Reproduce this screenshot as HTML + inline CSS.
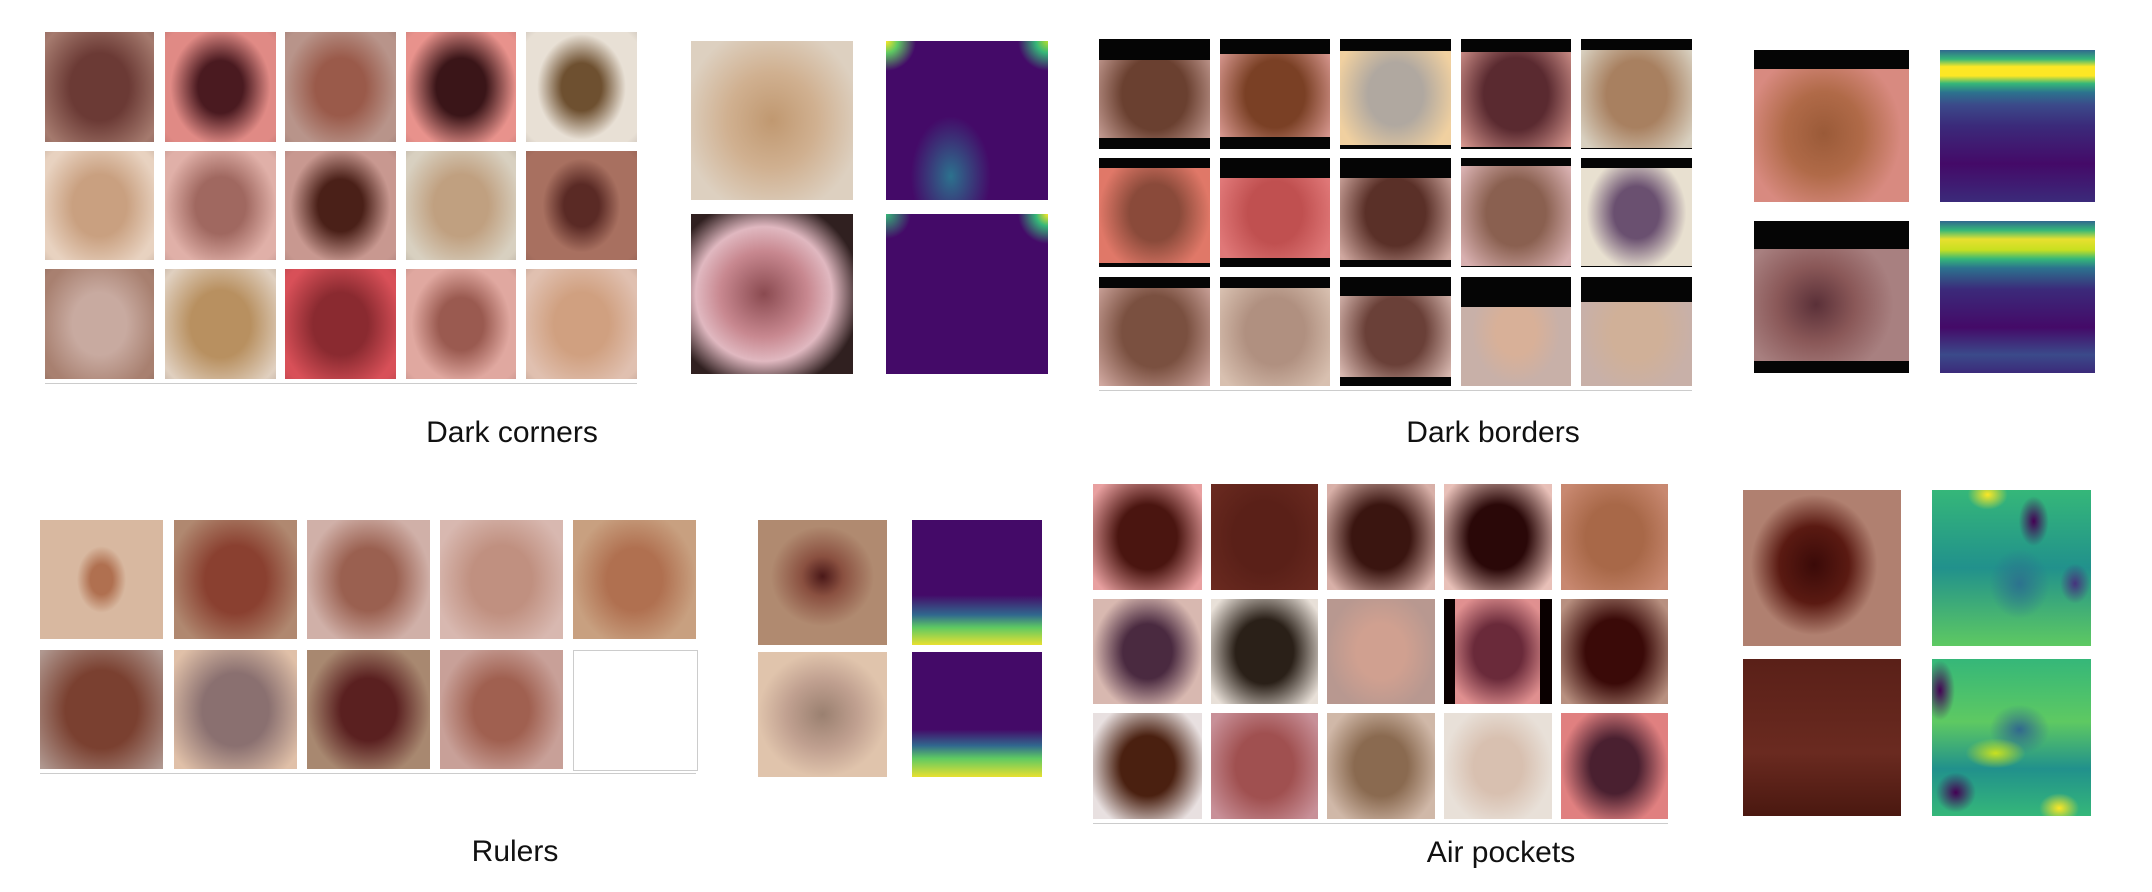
<!DOCTYPE html>
<html><head><meta charset="utf-8">
<style>
html,body{margin:0;padding:0;background:#fff;}
#root{position:relative;width:2152px;height:892px;overflow:hidden;background:#fff;font-family:"Liberation Sans",sans-serif;}
.c{position:absolute;overflow:hidden;}
.bar{position:absolute;left:0;right:0;background:#050505;}
.t{position:absolute;font-size:30px;color:#111;transform:translate(-50%,-50%);white-space:nowrap;}
.ax{position:absolute;height:1px;background:#ccc;}
</style></head><body>
<div id="root">
<div class="t" style="left:512px;top:433px">Dark corners</div>
<div class="t" style="left:1493px;top:433px">Dark borders</div>
<div class="t" style="left:515px;top:852px">Rulers</div>
<div class="t" style="left:1501px;top:853px">Air pockets</div>
</div>
<script>
const root=document.getElementById('root');
const dcCols=[[45,154],[165,276],[285,396],[406,516],[526,637]], dcRows=[[32,142],[151,260],[269,379]];
const dbCols=[[1099,1210],[1220,1330],[1340,1451],[1461,1571],[1581,1692]], dbRows=[[39,149],[158,267],[277,386]];
const ruCols=[[40,163],[174,297],[307,430],[440,563],[573,696]], ruRows=[[520,639],[650,769]];
const apCols=[[1093,1202],[1211,1318],[1327,1435],[1444,1552],[1561,1668]], apRows=[[484,590],[599,704],[713,819]];
const dcColors=[["#a57a6e","#6b3a35",60],["#e08a85","#4a1a20",45],["#b8948a","#9a5a4a",50],["#e8928c","#3a1518",50],["#e8e0d5","#6e5030",40],
["#e8d2c0","#c9a080",55],["#e0b0a8","#a06860",50],["#c89890","#4a2018",45],["#d8d0c0","#c0a080",55],["#a87060","#5a2a25",35],
["#a88070","#c8aaa0",55],["#e0d0c0","#b89060",60],["#d85058","#8a2a30",55],["#e0a8a0","#9a5a50",45],["#e0c0b0","#d0a080",55]];
const dbColors=[["#d0a8a0","#6a4030",65],["#d89890","#7a4025",60],["#f0d0a0","#b0a8a0",55],["#d89890","#5a2a30",65],["#d8d0c0","#a88060",60],
["#e07868","#8a4a3a",50],["#e07878","#c05050",55],["#d0a8a0","#5a3028",60],["#d8b0b0","#8a6050",60],["#e8e0d0","#6a5070",45],
["#d0a8a0","#7a5040",65],["#d8c0b0","#b09080",60],["#d8b8b0","#6a4038",60],["#c8b0a8","#d8b098",40],["#c8b0a8","#d0b098",50]];
const dbTop=[21,15,12,13,11,10,20,20,8,10,11,11,19,30,25];
const dbBot=[11,12,4,2,1,4,9,7,1,1,0,0,9,0,0];
const ruColors=[["#d8b8a0","#b07050",20],["#b08870","#8a4030",55],["#d0b0a8","#9a6050",50],["#d8b8b0","#c09080",55],["#c8a080","#b07050",50],
["#b09890","#7a4030",65],["#e0c0a8","#8a7070",60],["#a88870","#5a2020",50],["#c8a098","#a06050",50],["#ffffff","#ffffff",0]];
const apColors=[["#e8a0a0","#4a1510",60],["#6a2a20","#5a2018",65],["#d8b0a8","#3a1510",60],["#e8c0b8","#2a0808",60],["#c88870","#a86848",60],
["#d8b8b0","#4a2a40",50],["#e8e0d8","#2a2018",60],["#b89890","#d0a090",50],["#e09090","#6a2a3a",50],["#b89080","#3a0a08",60],
["#e8e0e0","#4a2010",55],["#c89098","#a05050",60],["#d0b8a8","#8a6a50",55],["#e8e0d8","#d8c0b0",50],["#e08080","#4a2030",50]];

function mk(x,y,w,h,bg,name){
  const d=document.createElement('div');d.className='c';
  d.style.cssText+=`left:${x}px;top:${y}px;width:${w}px;height:${h}px;background:${bg};`;
  
  
  root.appendChild(d);return d;
}
function lesion(c){return c[2]?`radial-gradient(ellipse ${c[2]}% ${c[2]+8}% at 50% 50%, ${c[1]} 0%, ${c[1]} 45%, ${c[0]} 100%)`:c[0];}
function grid(cols,rows,colors,prefix,vignette){
  rows.forEach((r,ri)=>cols.forEach((c,ci)=>{
    const k=ri*cols.length+ci;const col=colors[k];
    let bg=lesion(col);
    if(vignette) bg=`radial-gradient(ellipse 80% 80% at 50% 50%, rgba(0,0,0,0) 80%, rgba(40,20,20,0.2) 100%),`+bg;
    const d=mk(c[0],r[0],c[1]-c[0],r[1]-r[0],bg,prefix+'-thumb');
    if(col[0]==="#ffffff") d.style.border='1px solid #ccc';
  }));
  const ax=document.createElement('div');ax.className='ax';
  ax.style.cssText+=`left:${cols[0][0]}px;top:${rows[rows.length-1][1]+4}px;width:${cols[4][1]-cols[0][0]}px;`;
  
  
  root.appendChild(ax);
}
grid(dcCols,dcRows,dcColors,'dark-corners',true);
grid(dbCols,dbRows,dbColors,'dark-borders',false);
grid(ruCols,ruRows,ruColors,'rulers',false);
grid(apCols,apRows,apColors,'air-pockets',false);
dbRows.forEach((r,ri)=>dbCols.forEach((c,ci)=>{
  const k=ri*5+ci;
  const w=c[1]-c[0];
  const t=document.createElement('div');t.className='c';
  t.style.cssText+=`left:${c[0]}px;top:${r[0]}px;width:${w}px;height:${dbTop[k]}px;background:#050505;`;
  
  
  root.appendChild(t);
  if(dbBot[k]){const b=document.createElement('div');b.className='c';
  b.style.cssText+=`left:${c[0]}px;top:${r[1]-dbBot[k]}px;width:${w}px;height:${dbBot[k]}px;background:#050505;`;
  
  
  root.appendChild(b);}
}));
[[1444,1455],[1540,1552]].forEach(s=>{mk(s[0],599,s[1]-s[0],105,'#0a0000','black-side-bar');});

const V='#440a68', V2='#3b2a7a';
mk(691,41,162,159,'radial-gradient(ellipse 55% 60% at 50% 50%, #c09870 0%, #d0b090 50%, #ddd0c0 100%)','dark-corners-example-1');
mk(691,214,162,160,'radial-gradient(ellipse 60% 60% at 45% 50%, #8a4a50 0%, #c88890 45%, #e0b8c0 70%, #302020 100%)','dark-corners-example-2');
mk(886,41,162,159,`radial-gradient(circle 30px at 0% 0%, #fde725 0%, #5ec962 40%, rgba(68,10,104,0) 100%),radial-gradient(circle 30px at 100% 0%, #b5de2b 0%, #35b779 40%, rgba(68,10,104,0) 100%),radial-gradient(ellipse 40px 60px at 40% 85%, #2c728e 0%, rgba(68,10,104,0) 100%),${V}`,'dark-corners-heatmap-1');
mk(886,214,162,160,`radial-gradient(circle 30px at 100% 0%, #fde725 0%, #35b779 40%, rgba(68,10,104,0) 100%),radial-gradient(circle 25px at 0% 0%, #35b779 0%, rgba(68,10,104,0) 100%),${V}`,'dark-corners-heatmap-2');

const p1=mk(1754,50,155,152,'radial-gradient(ellipse 50% 55% at 45% 55%, #9a5a38 0%, #b06a48 50%, #d88a80 100%)','dark-borders-example-1');
const p1b=document.createElement('div');p1b.className='bar';p1b.style.cssText+='top:0;height:19px;';p1.appendChild(p1b);
const p2=mk(1754,221,155,152,'radial-gradient(ellipse 50% 50% at 40% 55%, #5a3038 0%, #8a5858 50%, #a88080 100%)','dark-borders-example-2');
const p2b=document.createElement('div');p2b.className='bar';p2b.style.cssText+='top:0;height:28px;';p2.appendChild(p2b);
const p2c=document.createElement('div');p2c.className='bar';p2c.style.cssText+='bottom:0;height:12px;';p2.appendChild(p2c);
mk(1940,50,155,152,`linear-gradient(180deg, #31688e 0%, #35b779 6%, #fde725 11%, #fde725 17%, #35b779 22%, #2c728e 28%, #3b4a8a 36%, ${V2} 50%, ${V} 75%, ${V2} 100%)`,'dark-borders-heatmap-1');
mk(1940,221,155,152,`linear-gradient(180deg, #31688e 0%, #35b779 6%, #e8e030 12%, #c8e020 19%, #35b779 25%, #2c728e 31%, ${V2} 45%, ${V} 70%, #3b4a8a 88%, ${V2} 100%)`,'dark-borders-heatmap-2');

mk(758,520,129,125,'radial-gradient(ellipse 40% 40% at 50% 45%, #4a1818 0%, #8a5040 40%, #b08a70 100%)','rulers-example-1');
mk(758,652,129,125,'radial-gradient(ellipse 50% 50% at 50% 50%, #9a8070 0%, #c0a090 55%, #e0c4ac 100%)','rulers-example-2');
mk(912,520,130,125,`linear-gradient(180deg, ${V} 0%, ${V} 60%, #31688e 76%, #5ec962 86%, #e8e030 100%)`,'rulers-heatmap-1');
mk(912,652,130,125,`linear-gradient(180deg, ${V} 0%, ${V} 62%, #31688e 75%, #5ec962 85%, #e8e030 100%)`,'rulers-heatmap-2');

mk(1743,490,158,156,'radial-gradient(ellipse 40% 45% at 45% 48%, #3a0a08 0%, #5a1a12 55%, #b08070 100%)','air-pockets-example-1');
mk(1743,659,158,157,'linear-gradient(180deg, #5a2018 0%, #6a2a20 60%, #4a1810 100%)','air-pockets-example-2');
mk(1932,490,159,156,`radial-gradient(ellipse 15px 25px at 64% 20%, #440154 0%, rgba(68,1,84,0) 100%),radial-gradient(ellipse 20px 15px at 35% 3%, #fde725 0%, rgba(0,0,0,0) 100%),radial-gradient(ellipse 15px 20px at 90% 60%, #46337e 0%, rgba(0,0,0,0) 100%),radial-gradient(ellipse 30px 35px at 55% 60%, #2c728e 0%, rgba(0,0,0,0) 100%),linear-gradient(180deg,#35b779 0%,#21918c 50%,#5ec962 100%)`,'air-pockets-heatmap-1');
mk(1932,659,159,157,`radial-gradient(ellipse 15px 30px at 5% 20%, #440154 0%, rgba(0,0,0,0) 100%),radial-gradient(ellipse 20px 20px at 15% 85%, #440154 0%, rgba(0,0,0,0) 100%),radial-gradient(ellipse 30px 15px at 40% 60%, #c8e020 0%, rgba(0,0,0,0) 100%),radial-gradient(ellipse 20px 15px at 80% 95%, #fde725 0%, rgba(0,0,0,0) 100%),radial-gradient(ellipse 30px 25px at 55% 45%, #31688e 0%, rgba(0,0,0,0) 100%),linear-gradient(180deg,#35b779 0%,#5ec962 40%,#21918c 70%,#35b779 100%)`,'air-pockets-heatmap-2');
</script>
</body></html>
